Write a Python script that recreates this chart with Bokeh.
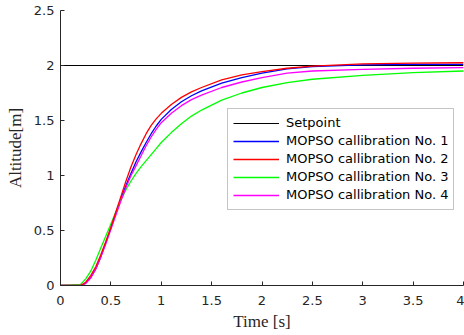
from bokeh.plotting import figure
from bokeh.models import Range1d, FixedTicker, NumeralTickFormatter, Legend, LegendItem
from bokeh.embed import file_html
from bokeh.resources import INLINE

# time samples [s]
t = [0, 0.2, 0.25, 0.3, 0.35, 0.4, 0.45, 0.5, 0.55, 0.6, 0.65, 0.7, 0.75, 0.8, 0.85,
     0.9, 0.95, 1.0, 1.1, 1.2, 1.3, 1.4, 1.6, 1.8, 2.0, 2.25, 2.5, 3.0, 3.5, 4.0]

calib1 = [0, 0, 0.02, 0.07, 0.15, 0.26, 0.39, 0.52, 0.66, 0.79, 0.91, 1.02, 1.125, 1.215, 1.30,
          1.38, 1.45, 1.51, 1.60, 1.67, 1.725, 1.77, 1.84, 1.89, 1.93, 1.97, 1.99, 2.005, 2.01, 2.01]
calib2 = [0, 0, 0.03, 0.09, 0.17, 0.28, 0.40, 0.53, 0.67, 0.81, 0.95, 1.08, 1.19, 1.29, 1.38,
          1.455, 1.515, 1.565, 1.645, 1.71, 1.76, 1.80, 1.87, 1.915, 1.945, 1.975, 1.995, 2.015, 2.022, 2.025]
calib3 = [0, 0.01, 0.06, 0.13, 0.23, 0.34, 0.45, 0.56, 0.67, 0.78, 0.87, 0.95, 1.02, 1.08, 1.135,
          1.19, 1.245, 1.30, 1.39, 1.47, 1.54, 1.595, 1.685, 1.75, 1.80, 1.845, 1.875, 1.91, 1.935, 1.95]
calib4 = [0, 0, 0.02, 0.07, 0.15, 0.26, 0.38, 0.51, 0.64, 0.77, 0.89, 1.00, 1.09, 1.18, 1.27,
          1.35, 1.42, 1.48, 1.565, 1.635, 1.69, 1.73, 1.80, 1.85, 1.89, 1.93, 1.95, 1.965, 1.975, 1.98]

setpoint_t = [0, 4]
setpoint_y = [2, 2]

x_ticks = [0, 0.5, 1, 1.5, 2, 2.5, 3, 3.5, 4]
y_ticks = [0, 0.5, 1, 1.5, 2, 2.5]

labels = ["Setpoint", "MOPSO callibration No. 1", "MOPSO callibration No. 2",
          "MOPSO callibration No. 3", "MOPSO callibration No. 4"]
colors = ["#000000", "#0000ff", "#ff0000", "#00ff00", "#ff00ff"]

p = figure(frame_width=403, frame_height=275,
           min_border_left=60, min_border_right=1, min_border_top=10, min_border_bottom=50,
           x_range=Range1d(0, 4), y_range=Range1d(0, 2.5),
           output_backend="svg", toolbar_location=None)

p.outline_line_color = None
p.background_fill_color = "white"
p.border_fill_color = "white"
p.xgrid.visible = False
p.ygrid.visible = False

r_set = p.line(setpoint_t, setpoint_y, line_color=colors[0], line_width=1.2)
r1 = p.line(t, calib1, line_color=colors[1], line_width=1.3)
r3 = p.line(t, calib3, line_color=colors[3], line_width=1.3)
r4 = p.line(t, calib4, line_color=colors[4], line_width=1.3)
r2 = p.line(t, calib2, line_color=colors[2], line_width=1.3)

for ax, ticks in ((p.xaxis[0], x_ticks), (p.yaxis[0], y_ticks)):
    ax.ticker = FixedTicker(ticks=ticks)
    ax.formatter = NumeralTickFormatter(format="0.[0]")
    ax.minor_tick_line_color = None
    ax.major_tick_in = 4
    ax.major_tick_out = 0
    ax.axis_line_color = "#262626"
    ax.major_tick_line_color = "#262626"
    ax.major_label_text_font = "DejaVu Sans"
    ax.major_label_text_font_size = "13px"
    ax.major_label_text_color = "#262626"
    ax.axis_label_text_font = "Liberation Serif"
    ax.axis_label_text_font_size = "17px"
    ax.axis_label_text_font_style = "normal"
    ax.axis_label_text_color = "#262626"

p.xaxis.axis_label = "Time [s]"
p.yaxis.axis_label = "Altitude[m]"
p.xaxis.major_label_standoff = 10
p.yaxis.major_label_standoff = 6
p.xaxis.axis_label_standoff = 4
p.yaxis.axis_label_standoff = 6

legend = Legend(items=[LegendItem(label=labels[0], renderers=[r_set]),
                       LegendItem(label=labels[1], renderers=[r1]),
                       LegendItem(label=labels[2], renderers=[r2]),
                       LegendItem(label=labels[3], renderers=[r3]),
                       LegendItem(label=labels[4], renderers=[r4])],
                location=(167, 75.5), margin=0, padding=5, spacing=0,
                glyph_width=46, glyph_height=18, label_height=18, label_standoff=7,
                label_text_font="DejaVu Sans", label_text_font_size="13px",
                label_text_color="#000000",
                border_line_color="#8c8c8c", border_line_width=1,
                background_fill_color="white", background_fill_alpha=1.0)
p.add_layout(legend)

open("out.html", "w").write(file_html(p, INLINE))
